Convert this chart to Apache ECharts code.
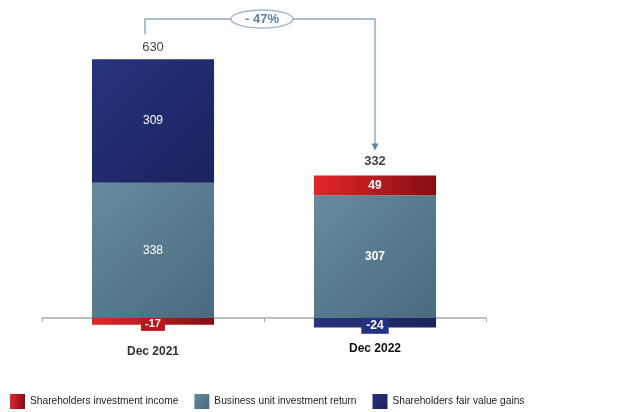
<!DOCTYPE html>
<html>
<head>
<meta charset="utf-8">
<script src="https://cdn.jsdelivr.net/npm/echarts@6/dist/echarts.min.js"></script>
<style>
  html, body { margin: 0; padding: 0; background: #fff; }
  #chart { width: 621px; height: 412px; }
</style>
</head>
<body>
<div id="chart"></div>
<script>
// Data
var categories = ['Dec 2021', 'Dec 2022'];
var investmentIncome = [-17, 49];     // Shareholders investment income
var businessReturn = [338, 307];      // Business unit investment return
var fairValueGains = [309, -24];      // Shareholders fair value gains
var seriesNames = ['Shareholders investment income', 'Business unit investment return', 'Shareholders fair value gains'];

var FONT = '"Liberation Sans", Arial, sans-serif';

function grad(c1, c2) {
  return new echarts.graphic.LinearGradient(0, 0, 1, 1, [
    { offset: 0, color: c1 }, { offset: 1, color: c2 }
  ]);
}
var redFill = new echarts.graphic.LinearGradient(0, 0, 1, 0, [
  { offset: 0, color: '#e4262a' }, { offset: 1, color: '#860e12' }
]);
var tealFill = grad('#648b9d', '#4a6a7d');
var navyFill = grad('#26337f', '#1b235c');

// per-point label styling: boxed labels for negatives, bold for the latest year
function buildData(values, boxColor) {
  return values.map(function (v, i) {
    var lbl;
    if (v < 0) {
      lbl = {
        show: true, position: 'inside', color: '#fff', fontWeight: 'bold',
        fontSize: i === 1 ? 12 : 11, fontFamily: FONT,
        backgroundColor: boxColor, padding: i === 1 ? [2, 5] : [1, 4],
        offset: [0, 3]
      };
    } else {
      lbl = {
        show: true, position: 'inside', color: '#fff', fontFamily: FONT,
        fontSize: 12, fontWeight: i === 1 ? 'bold' : 'normal'
      };
    }
    return { value: v, label: lbl };
  });
}

// totals: net sum, placed on top of the positive stack
var netTotals = categories.map(function (c, i) {
  return investmentIncome[i] + businessReturn[i] + fairValueGains[i];
});
var posTops = categories.map(function (c, i) {
  return [investmentIncome[i], businessReturn[i], fairValueGains[i]]
    .filter(function (v) { return v > 0; })
    .reduce(function (a, b) { return a + b; }, 0);
});

var chart = echarts.init(document.getElementById('chart'), null, { renderer: 'canvas' });

var option = {
  animation: false,
  textStyle: { fontFamily: FONT },
  grid: { left: 42, right: 135, top: 38, bottom: 54 },
  legend: {
    data: seriesNames,
    left: 5, top: 389,
    itemWidth: 15, itemHeight: 15, itemGap: 16,
    icon: 'rect',
    textStyle: { fontSize: 10.2, color: '#222', fontFamily: FONT }
  },
  xAxis: {
    type: 'category',
    data: categories,
    axisLine: { onZero: true, lineStyle: { color: '#a8a8a8', width: 1.5 } },
    axisTick: { show: true, length: 4, inside: false, lineStyle: { color: '#a8a8a8' } },
    axisLabel: {
      margin: -15,
      formatter: function (v, i) { return i === 1 ? '{b|' + v + '}' : '{a|' + v + '}'; },
      rich: {
        a: { fontSize: 12, fontWeight: 'bold', color: '#333', fontFamily: FONT, padding: [3, 0, 0, 0] },
        b: { fontSize: 12, fontWeight: 'bold', color: '#111', fontFamily: FONT }
      }
    }
  },
  yAxis: {
    type: 'value', min: -100, max: 700, show: false,
    splitLine: { show: false }
  },
  series: [
    {
      name: seriesNames[1], type: 'bar', stack: 'total', barWidth: '55%',
      itemStyle: { color: tealFill },
      data: buildData(businessReturn, '#4d6f80')
    },
    {
      name: seriesNames[2], type: 'bar', stack: 'total', barWidth: '55%',
      itemStyle: { color: navyFill },
      data: buildData(fairValueGains, '#233183')
    },
    {
      name: seriesNames[0], type: 'bar', stack: 'total', barWidth: '55%',
      itemStyle: { color: redFill },
      data: buildData(investmentIncome, '#b8181c')
    },
    {
      name: 'total', type: 'scatter', symbolSize: 0, silent: true,
      data: posTops.map(function (v, i) {
        return {
          value: v,
          label: {
            show: true, position: 'top', distance: i === 1 ? 8 : 5,
            formatter: function () { return String(netTotals[i]); },
            fontSize: 13, color: '#111', fontFamily: FONT,
            fontWeight: i === 1 ? 'bold' : 'normal'
          }
        };
      })
    }
  ]
};
chart.setOption(option);

// change annotation: bracket from first to second bar with percentage bubble
var p0 = chart.convertToPixel({ seriesIndex: 0 }, [0, posTops[0]]);
var p1 = chart.convertToPixel({ seriesIndex: 0 }, [1, posTops[1]]);
var pct = Math.round((netTotals[1] - netTotals[0]) / netTotals[0] * 100);
var pctText = (pct < 0 ? '- ' : '+ ') + Math.abs(pct) + '%';
var lineCol = '#8fabc0';
var yTop = 19;
var xL = p0[0] - 8, xR = p1[0];
var xMid = (xL + xR) / 2 + 2;
chart.setOption({
  graphic: [
    {
      type: 'polyline', silent: true,
      shape: { points: [[xL, p0[1] - 25], [xL, yTop], [xR, yTop], [xR, p1[1] - 27]] },
      style: { stroke: lineCol, lineWidth: 1.5, fill: null }
    },
    {
      type: 'polygon', silent: true,
      shape: { points: [[xR - 3.5, p1[1] - 32], [xR + 3.5, p1[1] - 32], [xR, p1[1] - 25]] },
      style: { fill: '#5f86a4' }
    },
    {
      type: 'ellipse', silent: true,
      shape: { cx: xMid, cy: yTop, rx: 31, ry: 9 },
      style: { fill: '#fff', stroke: '#9fb8ca', lineWidth: 1.5 }
    },
    {
      type: 'text', silent: true,
      x: xMid, y: yTop,
      style: {
        text: pctText, fill: '#5e82a0', font: 'bold 13px ' + FONT,
        textAlign: 'center', textVerticalAlign: 'middle'
      }
    }
  ]
});
</script>
</body>
</html>
